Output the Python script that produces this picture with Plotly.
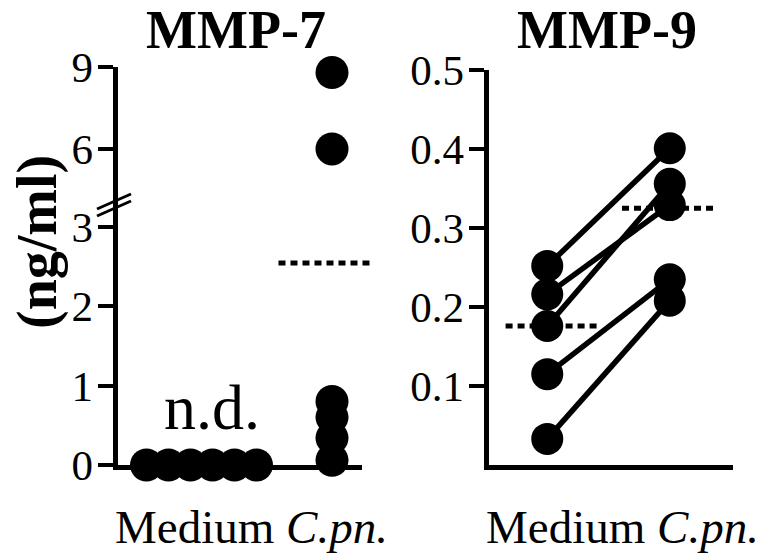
import plotly.graph_objects as go

# ---------------- data ----------------
groups = ["Medium", "C.pn."]
group_labels = ["Medium", "<i>C.pn.</i>"]
mmp7_medium = [0, 0, 0, 0, 0, 0]          # n.d.
mmp7_cpn = [8.8, 6.0, 0.8, 0.6, 0.34, 0.06]
mmp7_cpn_mean = 2.54
mmp9_medium = [0.252, 0.216, 0.176, 0.115, 0.033]
mmp9_cpn = [0.401, 0.329, 0.356, 0.235, 0.208]   # paired with mmp9_medium
mmp9_medium_mean = 0.176
mmp9_cpn_mean = 0.325
mmp7_low_ticks = [0, 1, 2, 3]
mmp7_high_ticks = [6, 9]
mmp9_ticks = [0.1, 0.2, 0.3, 0.4, 0.5]

# ---------------- layout helpers ----------------
W, H = 769, 553
def fx(px):
    return px / W
def fy(py):
    return 1 - py / H

FONT = "Liberation Serif, Times New Roman, serif"
BLACK = "black"
LW = 5
MS = 33
BREAK_LOW = 3.3     # top of lower segment
BREAK_HIGH = 4.0    # bottom of upper segment
HALF = LW / 2

fig = go.Figure()

# empty trace so the shorter baseline axis (x3) gets drawn (added first, stays underneath)
fig.add_trace(go.Scatter(x=[None], y=[None], mode="markers", xaxis="x3", yaxis="y",
                         showlegend=False, hoverinfo="skip"))

# ---- left panel (MMP-7) ----
n = len(mmp7_medium)
step = 0.1686
med_x = [0 + (i - (n - 1) / 2) * step for i in range(n)]
fig.add_trace(go.Scatter(x=med_x, y=mmp7_medium, mode="markers", xaxis="x", yaxis="y",
                         marker=dict(size=MS, color=BLACK), cliponaxis=False, showlegend=False))

low = [v for v in mmp7_cpn if v <= BREAK_LOW]
high = [v for v in mmp7_cpn if v >= BREAK_HIGH]
fig.add_trace(go.Scatter(x=[1 - 0.41, 1 + 0.31], y=[mmp7_cpn_mean] * 2, mode="lines",
                         xaxis="x", yaxis="y", line=dict(color=BLACK, width=LW, dash="7px,5px"),
                         showlegend=False))
fig.add_trace(go.Scatter(x=[1] * len(low), y=low, mode="markers", xaxis="x", yaxis="y",
                         marker=dict(size=MS, color=BLACK), cliponaxis=False, showlegend=False))
fig.add_trace(go.Scatter(x=[1] * len(high), y=high, mode="markers", xaxis="x", yaxis="y2",
                         marker=dict(size=MS, color=BLACK), cliponaxis=False, showlegend=False))

# ---- right panel (MMP-9) ----
fig.add_trace(go.Scatter(x=[-0.34, 0.44], y=[mmp9_medium_mean] * 2, mode="lines",
                         xaxis="x2", yaxis="y3", line=dict(color=BLACK, width=LW, dash="7px,5px"),
                         showlegend=False))
fig.add_trace(go.Scatter(x=[1 - 0.39, 1 + 0.39], y=[mmp9_cpn_mean] * 2, mode="lines",
                         xaxis="x2", yaxis="y3", line=dict(color=BLACK, width=LW, dash="7px,5px"),
                         showlegend=False))
for a, b in zip(mmp9_medium, mmp9_cpn):
    fig.add_trace(go.Scatter(x=[0, 1], y=[a, b], mode="lines+markers", xaxis="x2", yaxis="y3",
                             line=dict(color=BLACK, width=LW + 0.5),
                             marker=dict(size=MS - 1, color=BLACK), cliponaxis=False,
                             showlegend=False))

tickfont = dict(family=FONT, size=43, color=BLACK)
yax_common = dict(showline=True, linewidth=LW, linecolor=BLACK, ticks="outside", ticklen=15,
                  tickwidth=4, tickcolor=BLACK, tickfont=tickfont, showgrid=False,
                  zeroline=False, automargin=False, ticklabelstandoff=-4)

# left lower segment
low_bottom_px = 465
low_top_px = 203.5
low_ppu = 79.5
low_max = (low_bottom_px - low_top_px) / low_ppu

r_bottom_px = 465
r_top_px = 70
r_max = 0.5

fig.update_layout(
    width=W, height=H, autosize=False,
    margin=dict(l=0, r=0, t=0, b=0),
    paper_bgcolor="white", plot_bgcolor="rgba(0,0,0,0)",
    showlegend=False,
    xaxis=dict(domain=[fx(115 + HALF), fx(382)], range=[-0.6628 + HALF / 130.5, 1.3678 + 2 / 130.5],
               showline=False, showticklabels=False, ticks="", showgrid=False, zeroline=False,
               anchor="y"),
    xaxis3=dict(domain=[fx(115 + HALF), fx(362)], range=[0, 1], showline=True, linewidth=LW,
                linecolor=BLACK, showticklabels=False, ticks="", showgrid=False,
                zeroline=False, anchor="y"),
    yaxis=dict(domain=[fy(low_bottom_px), fy(low_top_px)], range=[0, low_max],
               tickvals=mmp7_low_ticks, anchor="x", **yax_common),
    yaxis2=dict(domain=[fy(low_top_px), fy(67)], range=[BREAK_HIGH, 9], tickvals=mmp7_high_ticks,
                anchor="x", **yax_common),
    xaxis2=dict(domain=[fx(486 + HALF), fx(733)], range=[-0.5 + HALF / 122, 1.516], showline=True,
                linewidth=LW, linecolor=BLACK, showticklabels=False, ticks="", showgrid=False,
                zeroline=False, anchor="y3"),
    yaxis3=dict(domain=[fy(r_bottom_px), fy(r_top_px)], range=[0, r_max], tickvals=mmp9_ticks,
                tickformat=".1f", anchor="x2", **yax_common),
)

# break marks on the left y axis
for dy in (0, 7):
    fig.add_shape(type="line", xref="paper", yref="paper",
                  x0=fx(97), y0=fy(209 + dy), x1=fx(131), y1=fy(194 + dy),
                  line=dict(color=BLACK, width=3))

def note(text, x, y, size, angle=0, xref="paper", yref="paper"):
    return dict(text=text, x=x, y=y, xref=xref, yref=yref, showarrow=False,
                xanchor="center", yanchor="middle", textangle=angle,
                font=dict(family=FONT, size=size, color=BLACK))

ann = [
    note("<b>MMP-7</b>", fx(236), fy(30), 54),
    note("<b>MMP-9</b>", fx(607), fy(30), 54),
    note("<b>(ng/ml)</b>", fx(37), fy(242), 56, angle=-90),
    note("n.d.", 0.08, 0.72, 64, xref="x", yref="y"),
    note(" ".join(group_labels), fx(251), fy(527), 47),
    note(" ".join(group_labels), fx(622), fy(527), 47),
]
fig.update_layout(annotations=ann)

fig.write_html("out.html", config={"displayModeBar": False},
               post_script="document.body.style.margin='0px';")
